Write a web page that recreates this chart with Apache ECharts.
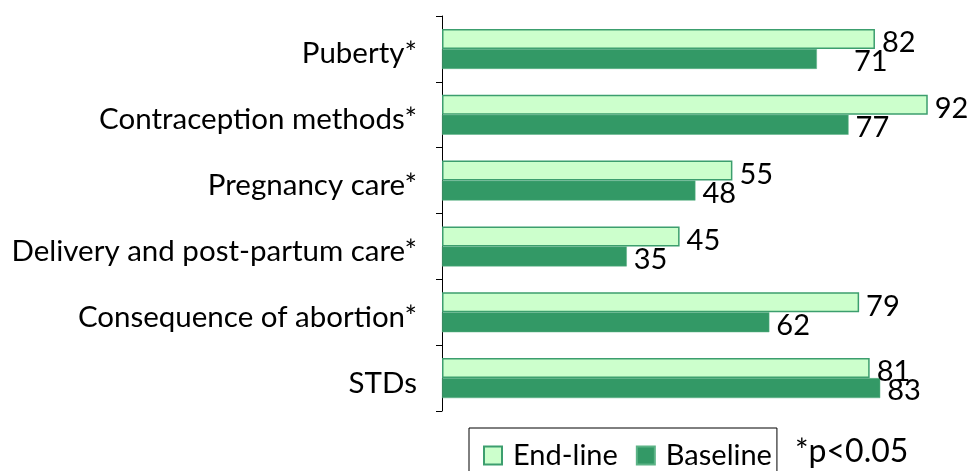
<!DOCTYPE html>
<html>
<head>
<meta charset="utf-8">
<script src="https://cdn.jsdelivr.net/npm/echarts@6/dist/echarts.min.js"></script>
<style>
  html, body { margin: 0; padding: 0; background: #fff; }
  #chart { width: 970px; height: 471px; }
</style>
</head>
<body>
<div id="chart"></div>
<script>
// 类目（自上而下）
const categories = [
  'Puberty*',
  'Contraception methods*',
  'Pregnancy care*',
  'Delivery and post-partum care*',
  'Consequence of abortion*',
  'STDs'
]
// 图例
const legendNames = ['End-line', 'Baseline']
// 数据
const endLine = [82, 92, 55, 45, 79, 81]
const baseline = [71, 77, 48, 35, 62, 83]
const noteText = '*p<0.05'

const FONT = 'Lato'
const FS = 29
const chart = echarts.init(document.getElementById('chart'))

const labelStyle = (dy) => ({
  show: true,
  position: 'right',
  distance: 7,
  offset: [0, dy],
  color: '#000',
  fontFamily: FONT,
  fontSize: FS
})

const option = {
  animation: false,
  grid: { left: 442, right: -6, top: 16, bottom: 60 },
  xAxis: {
    type: 'value',
    min: 0,
    max: 100,
    show: false
  },
  yAxis: {
    type: 'category',
    inverse: true,
    data: categories,
    axisLine: { show: true, lineStyle: { color: '#000', width: 1 } },
    axisTick: { show: true, length: 6, lineStyle: { color: '#000' } },
    axisLabel: {
      margin: 25,
      formatter: (v) => '{a|' + v + '}',
      rich: {
        a: {
          color: '#000',
          fontFamily: FONT,
          fontSize: 29.5,
          padding: [10, 0, 0, 0]
        }
      }
    },
    splitLine: { show: false }
  },
  legend: {
    data: legendNames,
    left: 469,
    top: 428,
    icon: 'rect',
    itemWidth: 18,
    itemHeight: 18,
    itemGap: 18,
    padding: [13, 5, 30, 14],
    borderColor: '#000',
    borderWidth: 1,
    textStyle: { color: '#000', fontFamily: FONT, fontSize: FS, padding: [0, 0, 0, 6] }
  },
  graphic: [
    {
      type: 'text',
      left: 795,
      top: 436,
      style: { text: noteText, fill: '#000', font: '32px ' + FONT }
    }
  ],
  series: [
    {
      name: legendNames[0],
      type: 'bar',
      data: endLine,
      barWidth: 20,
      barGap: '0%',
      itemStyle: { color: '#ccffcc', borderColor: '#3c9e6e', borderWidth: 1.5 },
      label: labelStyle(4)
    },
    {
      name: legendNames[1],
      type: 'bar',
      // 71 的标签在原图中被挪到右边
      data: baseline.map((v, i) => i === 0 ? { value: v, label: { offset: [30, 3] } } : v),
      barWidth: 20,
      barGap: '0%',
      itemStyle: { color: '#339966', borderColor: '#5cb386', borderWidth: 0.5 },
      label: labelStyle(3)
    }
  ]
}

chart.setOption(option)
</script>
</body>
</html>
